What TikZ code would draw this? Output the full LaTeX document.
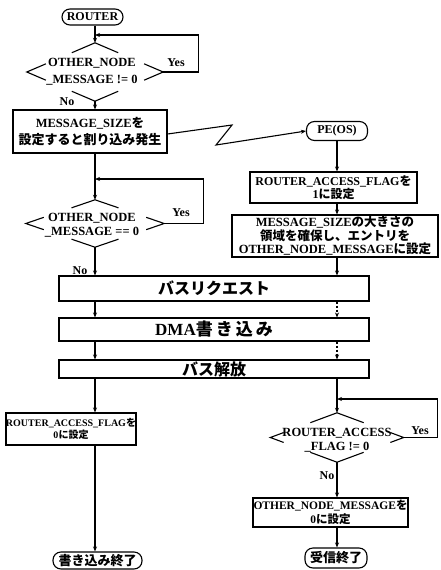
\documentclass[tikz,border=0pt]{standalone}
\usepackage{fontspec}
\setmainfont{Liberation Serif}
\newfontfamily\jpfont{Noto Sans CJK JP}
\newcommand\jtxt[1]{{\jpfont #1}}
\usetikzlibrary{shapes.geometric,arrows.meta,calc}
\newcommand\chevrons[3]{%
 \draw[ln] ($(#1.north)!#2!(#1.west)$) -- (#1.north) -- ($(#1.north)!#2!(#1.east)$);
 \draw[ln] ($(#1.south)!#2!(#1.west)$) -- (#1.south) -- ($(#1.south)!#2!(#1.east)$);
 \draw[ln] ($(#1.west)!#3!(#1.north)$) -- (#1.west) -- ($(#1.west)!#3!(#1.south)$);
 \draw[ln] ($(#1.east)!#3!(#1.north)$) -- (#1.east) -- ($(#1.east)!#3!(#1.south)$);
}
\tikzset{
 ln/.style={line width=1.1pt},
 arr/.style={ln,-{Stealth[length=5pt,width=4pt]}},
 darr/.style={arr,dash pattern=on 2.5pt off 1.5pt},
 box/.style={draw,line width=1.1pt,inner sep=0pt,align=center,font=\bfseries\fontsize{12}{14}\selectfont},
 term/.style={draw,line width=1.1pt,rounded corners=8pt,inner sep=0pt,font=\bfseries\fontsize{12}{14}\selectfont},
 chev/.style={diamond,inner sep=0pt,draw=none},
 dtext/.style={align=center,inner sep=0pt,font=\bfseries\fontsize{12.5}{14}\selectfont},
 lab/.style={inner sep=0pt,font=\bfseries\fontsize{12}{14}\selectfont},
}
\begin{document}
\begin{tikzpicture}[x=1pt,y=-1pt]
\useasboundingbox (0,0) rectangle (440,570);
\fill[white] (0,0) rectangle (440,570);
\coordinate (Lx) at (95,0);
\coordinate (Rx) at (337,0);
\coordinate (j1) at (95,35);
\coordinate (j2) at (95,179);
\coordinate (j3) at (337,399);

% left column
\node[term,minimum width=61pt,minimum height=16pt] (router) at (92.5,17) {ROUTER};
\node[chev,minimum width=136pt,minimum height=58pt] (d1) at (95,72) {};
\node[dtext,font=\bfseries\fontsize{12.5}{17}\selectfont] (d1t) at (92,71.5) {OTHER\_NODE\\\_MESSAGE != 0};
\chevrons{d1}{0.34}{0.28}
\node[lab] (y1) at (176,63) {Yes};
\node[lab] (n1) at (67,102) {No};
\node[box,minimum width=154pt,minimum height=43pt,font=\bfseries\fontsize{12.5}{17}\selectfont] (box1) at (90,131.5) {MESSAGE\_SIZE\jtxt{を}\\\jtxt{\fontsize{13}{17}\selectfont 設定すると割り込み発生}};

\node[chev,minimum width=138pt,minimum height=47pt] (d2) at (95,223.5) {};
\node[dtext] (d2t) at (92,225) {OTHER\_NODE\\\_MESSAGE == 0};
\chevrons{d2}{0.34}{0.26}
\node[lab] (y2) at (181,213) {Yes};
\node[lab] (n2) at (80,271) {No};

% right column
\node[term,minimum width=61pt,minimum height=19pt] (pe) at (337,131) {PE(OS)};
\node[box,minimum width=167pt,minimum height=31pt,font=\bfseries\fontsize{12}{13.5}\selectfont] (r1) at (333.5,187.5) {ROUTER\_ACCESS\_FLAG\jtxt{を}\\1\jtxt{に設定}};
\node[box,minimum width=206pt,minimum height=42pt,font=\bfseries\fontsize{12.5}{13.5}\selectfont] (r2) at (335,236) {MESSAGE\_SIZE\jtxt{の大きさの}\\\jtxt{領域を確保し、エントリを}\\OTHER\_NODE\_MESSAGE\jtxt{に設定}};

% bus boxes
\node[box,minimum width=310pt,minimum height=25pt,font=\bfseries\fontsize{16}{18}\selectfont] (bus1) at (214,288.5) {\jtxt{バスリクエスト}};
\node[box,minimum width=310pt,minimum height=23pt,font=\bfseries\fontsize{17}{19}\selectfont] (bus2) at (214,329.5) {DMA\jtxt{書\hspace{3pt}き\hspace{3pt}込\hspace{3pt}み}};
\node[box,minimum width=310pt,minimum height=18pt,font=\bfseries\fontsize{16}{18}\selectfont] (bus3) at (214,369) {\jtxt{バス解放}};

% lower left
\node[box,minimum width=128pt,minimum height=32pt,font=\bfseries\fontsize{10}{12}\selectfont] (boxl) at (71,429) {ROUTER\_ACCESS\_FLAG\jtxt{を}\\0\jtxt{に設定}};
\node[term,minimum width=89pt,minimum height=17pt,font=\bfseries\fontsize{13}{15}\selectfont] (end1) at (97.5,560.5) {\jtxt{書き込み終了}};

% lower right
\node[chev,minimum width=133pt,minimum height=49pt] (d3) at (337,437.5) {};
\node[dtext] (d3t) at (337,440) {ROUTER\_ACCESS\\\_FLAG != 0};
\chevrons{d3}{0.4}{0.2}
\node[lab] (y3) at (420,431) {Yes};
\node[lab] (n3) at (327,476) {No};
\node[box,minimum width=155pt,minimum height=29pt,font=\bfseries\fontsize{11.5}{14}\selectfont] (r3) at (330.5,512.5) {OTHER\_NODE\_MESSAGE\jtxt{を}\\0\jtxt{に設定}};
\node[term,minimum width=62pt,minimum height=20pt,font=\bfseries\fontsize{13}{15}\selectfont] (end2) at (336,558) {\jtxt{受信終了}};

% connectors left
\draw[arr] (router.south -| Lx) -- (d1.north);
\draw[arr] (d1.east) -- ++(35,0) |- (j1);
\draw[arr] (d1.south) -- (box1.north -| Lx);
\draw[arr] (box1.south -| Lx) -- (d2.north);
\draw[arr] (d2.east) -- ++(39,0) |- (j2);
\draw[arr] (d2.south) -- (bus1.north -| Lx);
\draw[arr] (bus1.south -| Lx) -- (bus2.north -| Lx);
\draw[arr] (bus2.south -| Lx) -- (bus3.north -| Lx);
\draw[arr] (bus3.south -| Lx) -- (boxl.north -| Lx);
\draw[arr] (boxl.south -| Lx) -- (end1.north -| Lx);

% zigzag
\draw[arr] (box1.east |- 0,134) -- (232,125) -- (216,145) -- (pe.west);

% connectors right
\draw[arr] (pe.south) -- (r1.north -| Rx);
\draw[arr] (r1.south -| Rx) -- (r2.north -| Rx);
\draw[arr] (r2.south -| Rx) -- (bus1.north -| Rx);
\draw[darr] (bus1.south -| Rx) -- (bus2.north -| Rx);
\draw[darr] (bus2.south -| Rx) -- (bus3.north -| Rx);
\draw[arr] (bus3.south -| Rx) -- (d3.north);
\draw[arr] (d3.east) -- ++(34,0) |- (j3);
\draw[arr] (d3.south) -- (r3.north -| Rx);
\draw[arr] (r3.south -| Rx) -- (end2.north -| Rx);
\end{tikzpicture}
\end{document}
